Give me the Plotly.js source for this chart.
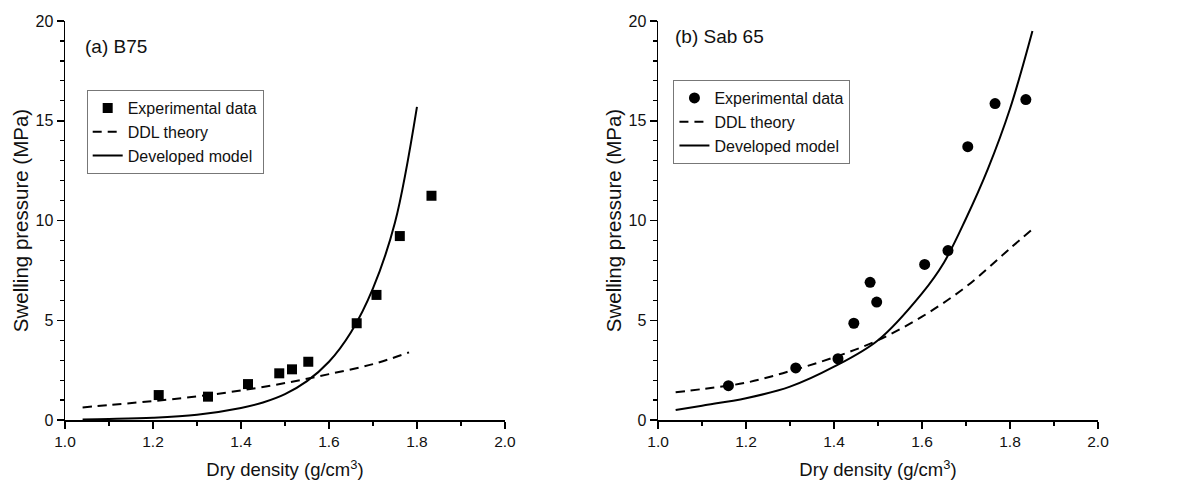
<!DOCTYPE html>
<html>
<head>
<meta charset="utf-8">
<script src="https://cdn.plot.ly/plotly-3.0.1.min.js"></script>
<style>
  html, body { margin: 0; padding: 0; background: #fff; }
  #chart { width: 1179px; height: 491px; }
</style>
</head>
<body>
<div id="chart"></div>
<script>
// ---- (a) B75 ----
const b75ExpX   = [1.213, 1.325, 1.416, 1.487, 1.516, 1.553, 1.663, 1.708, 1.761, 1.833];
const b75ExpY   = [1.25, 1.17, 1.80, 2.34, 2.54, 2.92, 4.85, 6.27, 9.22, 11.24];
const b75DdlX   = [1.04, 1.10, 1.20, 1.30, 1.40, 1.50, 1.60, 1.70, 1.782];
const b75DdlY   = [0.63, 0.75, 0.95, 1.18, 1.48, 1.85, 2.30, 2.80, 3.39];
const b75ModelX = [1.04, 1.10, 1.20, 1.30, 1.40, 1.45, 1.50, 1.55, 1.60, 1.65, 1.70, 1.75, 1.80];
const b75ModelY = [0.03, 0.05, 0.11, 0.26, 0.60, 0.88, 1.30, 1.95, 2.92, 4.40, 6.60, 9.90, 15.7];

// ---- (b) Sab 65 ----
const sabExpX   = [1.160, 1.313, 1.409, 1.445, 1.482, 1.497, 1.606, 1.659, 1.704, 1.766, 1.836];
const sabExpY   = [1.72, 2.61, 3.07, 4.85, 6.90, 5.91, 7.80, 8.49, 13.70, 15.86, 16.06];
const sabDdlX   = [1.04, 1.10, 1.20, 1.30, 1.40, 1.50, 1.60, 1.70, 1.80, 1.851];
const sabDdlY   = [1.39, 1.55, 1.87, 2.45, 3.14, 4.00, 5.18, 6.68, 8.60, 9.56];
const sabModelX = [1.04, 1.10, 1.20, 1.30, 1.40, 1.50, 1.60, 1.65, 1.70, 1.75, 1.80, 1.851];
const sabModelY = [0.50, 0.72, 1.09, 1.67, 2.67, 4.00, 6.35, 7.90, 10.1, 12.6, 15.6, 19.5];

const panelLabels = ["(a) B75", "(b) Sab 65"];
const seriesNames = ["Experimental data", "DDL theory", "Developed model"];
const xTitle = "Dry density (g/cm<sup>3</sup>)";
const yTitle = "Swelling pressure (MPa)";

const FONT = "'Liberation Sans', Arial, sans-serif";

const traces = [
  {x: b75ExpX, y: b75ExpY, name: seriesNames[0], type: 'scatter', mode: 'markers',
   marker: {symbol: 'square', size: 10, color: '#000'}, xaxis: 'x', yaxis: 'y', legend: 'legend'},
  {x: b75DdlX, y: b75DdlY, name: seriesNames[1], type: 'scatter', mode: 'lines',
   line: {color: '#000', width: 2, dash: '9px,6px', shape: 'spline', smoothing: 1}, xaxis: 'x', yaxis: 'y', legend: 'legend'},
  {x: b75ModelX, y: b75ModelY, name: seriesNames[2], type: 'scatter', mode: 'lines',
   line: {color: '#000', width: 2, shape: 'spline', smoothing: 1}, xaxis: 'x', yaxis: 'y', legend: 'legend'},

  {x: sabExpX, y: sabExpY, name: seriesNames[0], type: 'scatter', mode: 'markers',
   marker: {symbol: 'circle', size: 11, color: '#000'}, xaxis: 'x2', yaxis: 'y2', legend: 'legend2'},
  {x: sabDdlX, y: sabDdlY, name: seriesNames[1], type: 'scatter', mode: 'lines',
   line: {color: '#000', width: 2, dash: '9px,6px', shape: 'spline', smoothing: 1}, xaxis: 'x2', yaxis: 'y2', legend: 'legend2'},
  {x: sabModelX, y: sabModelY, name: seriesNames[2], type: 'scatter', mode: 'lines',
   line: {color: '#000', width: 2, shape: 'spline', smoothing: 1}, xaxis: 'x2', yaxis: 'y2', legend: 'legend2'}
];

function xAxis(domain, anchor) {
  return {
    domain: domain, anchor: anchor, range: [1.0, 2.0], dtick: 0.2, tick0: 1.0, tickformat: '.1f',
    showline: true, linecolor: '#000', linewidth: 1.5, mirror: false,
    ticks: 'outside', ticklen: 7, tickwidth: 1.5, tickcolor: '#000',
    minor: {dtick: 0.1, ticks: 'outside', ticklen: 4, tickwidth: 1.2, tickcolor: '#000', showgrid: false},
    showgrid: false, zeroline: false, fixedrange: true,
    tickfont: {family: FONT, size: 15.5, color: '#111'},
    title: {text: xTitle, font: {family: FONT, size: 18.5, color: '#111'}, standoff: 14}
  };
}
function yAxis(anchor) {
  return {
    domain: [0, 1], anchor: anchor, range: [0, 20], dtick: 5, tick0: 0,
    showline: true, linecolor: '#000', linewidth: 1.5, mirror: false,
    ticks: 'outside', ticklen: 7, tickwidth: 1.5, tickcolor: '#000',
    minor: {dtick: 1, ticks: 'outside', ticklen: 4, tickwidth: 1.2, tickcolor: '#000', showgrid: false},
    showgrid: false, zeroline: false, fixedrange: true,
    tickfont: {family: FONT, size: 16, color: '#111'},
    title: {text: yTitle, font: {family: FONT, size: 20.5, color: '#111'}, standoff: 1}
  };
}

const legendCommon = {
  bgcolor: 'rgba(255,255,255,0)', bordercolor: '#777', borderwidth: 1,
  font: {family: FONT, size: 16, color: '#111'},
  xanchor: 'left', yanchor: 'top', tracegroupgap: 0, itemwidth: 30
};

const layout = {
  width: 1179, height: 491,
  margin: {l: 65, r: 81, t: 21, b: 71},
  paper_bgcolor: '#fff', plot_bgcolor: '#fff',
  font: {family: FONT, color: '#111'},
  xaxis: xAxis([0, 0.4259], 'y'),
  yaxis: yAxis('x'),
  xaxis2: xAxis([0.5741, 1], 'y2'),
  yaxis2: yAxis('x2'),
  showlegend: true,
  legend: Object.assign({x: 0.021, y: 0.827}, legendCommon),
  legend2: Object.assign({x: 0.589, y: 0.852}, legendCommon),
  annotations: [
    {text: panelLabels[0], xref: 'paper', yref: 'paper', x: 0.0174, y: 0.935,
     xanchor: 'left', yanchor: 'middle', showarrow: false, font: {family: FONT, size: 19, color: '#111'}},
    {text: panelLabels[1], xref: 'paper', yref: 'paper', x: 0.5886, y: 0.96,
     xanchor: 'left', yanchor: 'middle', showarrow: false, font: {family: FONT, size: 19, color: '#111'}}
  ]
};

Plotly.newPlot('chart', traces, layout, {staticPlot: true, displayModeBar: false});
</script>
</body>
</html>
